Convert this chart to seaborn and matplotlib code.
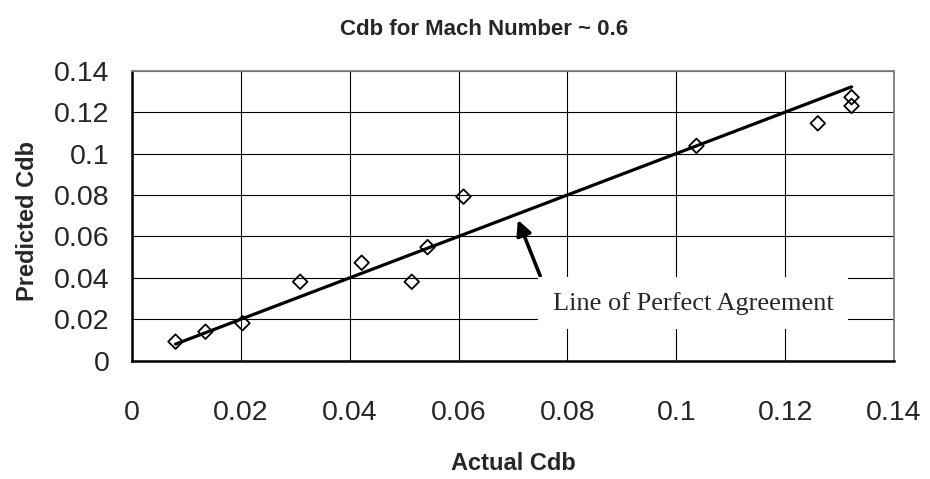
import matplotlib
matplotlib.use("Agg")
import matplotlib.pyplot as plt
import numpy as np
import pandas as pd
import seaborn as sns

# data
actual_cdb = [0.0080, 0.0135, 0.0203, 0.0309, 0.0422, 0.0514, 0.0543, 0.0609,
              0.1037, 0.1260, 0.1322, 0.1322]
predicted_cdb = [0.0092, 0.0140, 0.0181, 0.0381, 0.0473, 0.0381, 0.0548, 0.0792,
                 0.1037, 0.1146, 0.1272, 0.1230]
tick_values = [0, 0.02, 0.04, 0.06, 0.08, 0.1, 0.12, 0.14]
tick_labels = ["0", "0.02", "0.04", "0.06", "0.08", "0.1", "0.12", "0.14"]

df = pd.DataFrame({"actual": actual_cdb, "predicted": predicted_cdb})

# line of perfect agreement spans the range of actual values
line_df = pd.DataFrame({"x": [min(actual_cdb), max(actual_cdb)]})
line_df["y"] = line_df["x"]

sns.set_style("white")
plt.rcParams["font.family"] = ["Liberation Sans", "DejaVu Sans"]

fig = plt.figure(figsize=(9.3, 4.79), dpi=100)
ax = fig.add_axes([0.1419, 0.247, 0.8194, 0.6054])

sns.lineplot(data=line_df, x="x", y="y", color="black", linewidth=2.3, ax=ax)
sns.scatterplot(
    data=df,
    x="actual",
    y="predicted",
    marker="D",
    s=55,
    color="black",
    facecolor="none",
    edgecolor="black",
    linewidth=1.3,
    ax=ax,
    zorder=3,
)

ax.set_xlim(0, 0.14)
ax.set_ylim(0, 0.14)
ax.set_xticks(tick_values)
ax.set_xticklabels(tick_labels)
ax.set_yticks(tick_values)
ax.set_yticklabels(tick_labels)
ax.grid(True, color="black", linewidth=0.8)
ax.set_axisbelow(True)

for side in ["top", "right"]:
    ax.spines[side].set_color("#808080")
    ax.spines[side].set_linewidth(1.3)
for side in ["left", "bottom"]:
    ax.spines[side].set_color("black")
    ax.spines[side].set_linewidth(1.8)

ax.tick_params(axis="both", direction="out", length=7, width=1.5,
               labelsize=20.5, color="black")
ax.tick_params(axis="x", pad=21)
ax.tick_params(axis="y", pad=9)

ax.set_xlabel("Actual Cdb", fontsize=17, fontweight="bold")
ax.set_ylabel("Predicted Cdb", fontsize=17, fontweight="bold")
ax.xaxis.set_label_coords(0.5, -0.315)
ax.yaxis.set_label_coords(-0.122, 0.48)

fig.text(0.52, 0.938, "Cdb for Mach Number ~ 0.6", ha="center", va="center",
         fontsize=16, fontweight="bold")

# annotation box with arrow
ax.annotate(
    "",
    xy=(0.0709, 0.0680),
    xytext=(0.0750, 0.0409),
    arrowprops=dict(arrowstyle="-|>,head_length=0.9,head_width=0.45",
                    color="black", lw=2.6, shrinkA=0, shrinkB=0),
    zorder=4,
)
ax.text(
    0.1031, 0.0277, "Line of Perfect Agreement",
    ha="center", va="center", fontsize=19,
    family=["Liberation Serif", "DejaVu Serif"],
    bbox=dict(boxstyle="square,pad=0.55", facecolor="white", edgecolor="none"),
    zorder=5,
)

if ax.get_legend() is not None:
    ax.get_legend().remove()

fig.savefig("out.png", dpi=100)
